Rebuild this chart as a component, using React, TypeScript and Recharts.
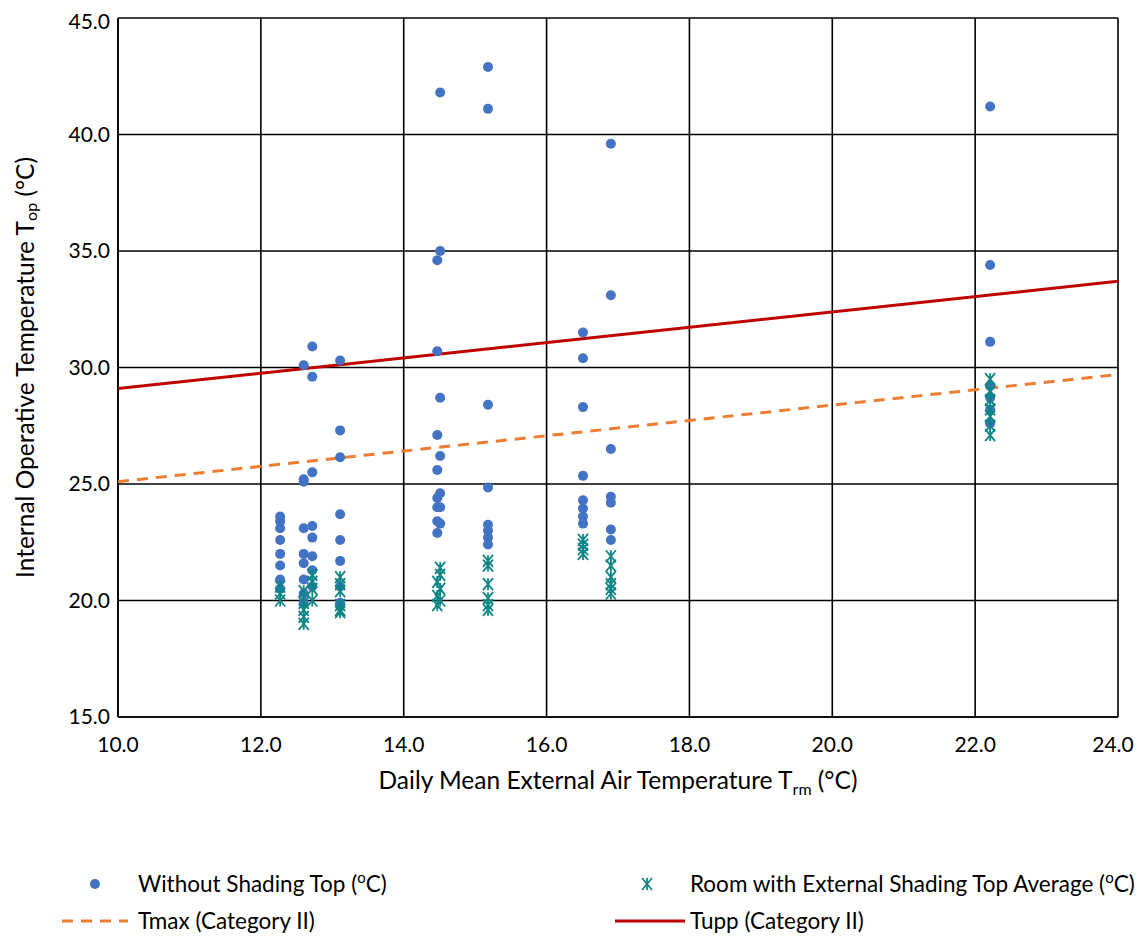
import React from "react";
import {
  ScatterChart,
  Scatter,
  XAxis,
  YAxis,
  CartesianGrid,
  Label,
  Legend,
} from "recharts";

// Without shading: [Trm, Top]
const withoutShading: [number, number][] = [
  [12.27, 23.6], [12.27, 23.4], [12.27, 23.1], [12.27, 22.6], [12.27, 22.0], [12.27, 21.5], [12.27, 20.9], [12.27, 20.5],
  [12.6, 30.1], [12.6, 25.2], [12.6, 25.1], [12.6, 23.1], [12.6, 22.0], [12.6, 21.6], [12.6, 20.9], [12.6, 20.3], [12.6, 19.9],
  [12.72, 30.9], [12.72, 29.6], [12.72, 25.5], [12.72, 23.2], [12.72, 22.7], [12.72, 21.9], [12.72, 21.3], [12.72, 20.6],
  [13.11, 30.3], [13.11, 27.3], [13.11, 26.15], [13.11, 23.7], [13.11, 22.6], [13.11, 21.7], [13.11, 20.6], [13.11, 19.9],
  [14.51, 41.8], [14.51, 35.0], [14.47, 34.6], [14.47, 30.7], [14.51, 28.7], [14.47, 27.1], [14.51, 26.2], [14.47, 25.6],
  [14.51, 24.6], [14.47, 24.4], [14.47, 24.0], [14.51, 24.0], [14.47, 23.4], [14.51, 23.3], [14.47, 22.9],
  [15.18, 42.9], [15.18, 41.1], [15.18, 28.4], [15.18, 24.85], [15.18, 23.25], [15.18, 23.0], [15.18, 22.7], [15.18, 22.4],
  [16.51, 31.5], [16.51, 30.4], [16.51, 28.3], [16.51, 25.35], [16.51, 24.3], [16.51, 23.95], [16.51, 23.6], [16.51, 23.3],
  [16.9, 39.6], [16.9, 33.1], [16.9, 26.5], [16.9, 24.45], [16.9, 24.2], [16.9, 23.05], [16.9, 22.6],
  [22.21, 41.2], [22.21, 34.4], [22.21, 31.1], [22.21, 29.2], [22.21, 28.7], [22.21, 28.2], [22.21, 27.6],
];

// Room with external shading: [Trm, Top average]
const externalShading: [number, number][] = [
  [12.27, 20.6], [12.27, 20.3], [12.27, 20.0],
  [12.6, 20.4], [12.6, 19.9], [12.6, 19.6], [12.6, 19.3], [12.6, 19.0],
  [12.72, 21.1], [12.72, 20.8], [12.72, 20.5], [12.72, 20.0],
  [13.11, 21.0], [13.11, 20.7], [13.11, 20.4], [13.11, 19.8], [13.11, 19.6], [13.11, 19.5],
  [14.51, 21.4], [14.51, 21.1], [14.47, 20.8], [14.51, 20.5], [14.47, 20.2], [14.51, 20.0], [14.47, 19.8],
  [15.18, 21.7], [15.18, 21.5], [15.18, 20.7], [15.18, 20.1], [15.18, 19.8], [15.18, 19.6],
  [16.51, 22.6], [16.51, 22.4], [16.51, 22.2], [16.51, 22.0],
  [16.9, 21.9], [16.9, 21.5], [16.9, 21.0], [16.9, 20.7], [16.9, 20.5], [16.9, 20.3],
  [22.21, 29.5], [22.21, 29.0], [22.21, 28.6], [22.21, 28.2], [22.21, 27.9], [22.21, 27.5], [22.21, 27.1],
];

const tmaxLine: [number, number][] = [[10, 25.1], [24, 29.7]];
const tuppLine: [number, number][] = [[10, 29.1], [24, 33.7]];

const xTicks = [10, 12, 14, 16, 18, 20, 22, 24];
const yTicks = [15, 20, 25, 30, 35, 40, 45];

const toPts = (a: [number, number][]) => a.map(([x, y]) => ({ x, y }));

const BLUE = "#4472C4";
const TEAL = "#0E8585";
const ORANGE = "#ED7D31";
const RED = "#C00000";
const FONT = "Lato, 'Open Sans', sans-serif";
const TICK_FS = 21;

const Dot = (p: any) => <circle cx={p.cx} cy={p.cy} r={5} fill={BLUE} />;
const Star = (p: any) => {
  const { cx, cy } = p;
  const w = 5, h = 6;
  return (
    <g stroke={TEAL} strokeWidth={1.8}>
      <line x1={cx - w} y1={cy - h} x2={cx + w} y2={cy + h} />
      <line x1={cx - w} y1={cy + h} x2={cx + w} y2={cy - h} />
      <line x1={cx} y1={cy - h} x2={cx} y2={cy + h} />
    </g>
  );
};
const Nothing = () => <g />;

const XTick = (p: any) => {
  const v = p.payload.value as number;
  const last = v === xTicks[xTicks.length - 1];
  return (
    <text
      x={p.x + (last ? -5 : 0)}
      y={p.y}
      dy="0.71em"
      textAnchor="middle"
      fontSize={TICK_FS}
      fontFamily={FONT}
      fill="#000"
    >
      {v.toFixed(1)}
    </text>
  );
};

const YTick = (p: any) => {
  const v = p.payload.value as number;
  return (
    <text
      x={p.x}
      y={p.y + (v === yTicks[yTicks.length - 1] ? 4 : 0)}
      dy="0.355em"
      textAnchor="end"
      fontSize={TICK_FS}
      fontFamily={FONT}
      fill="#000"
    >
      {v.toFixed(1)}
    </text>
  );
};

const Sup = () => (
  <>
    (<tspan baselineShift="super" fontSize={15}>o</tspan>C)
  </>
);

const LegendBox = () => (
  <svg width={1129} height={66} style={{ fontFamily: FONT, display: "block" }}>
    <g fontSize={22.5} fill="#000">
      <circle cx={87} cy={16} r={5} fill={BLUE} />
      <text x={130} y={24}>Without Shading Top <Sup /></text>
      <Star cx={639} cy={16} />
      <text x={682} y={24}>Room with External Shading Top Average  <Sup /></text>
      <line x1={54} y1={53} x2={120} y2={53} stroke={ORANGE} strokeWidth={3} strokeDasharray="11 8" />
      <text x={130} y={61}>Tmax (Category II)</text>
      <line x1={607} y1={53} x2={677} y2={53} stroke={RED} strokeWidth={3} />
      <text x={682} y={61}>Tupp (Category II)</text>
    </g>
  </svg>
);

export default function App() {
  return (
    <div style={{ fontFamily: FONT }}>
      <ScatterChart
        width={1129}
        height={928}
        margin={{ top: 10, right: 19, bottom: 123, left: 0 }}
      >
        <CartesianGrid stroke="#000" strokeWidth={1.6} horizontalValues={yTicks} verticalValues={xTicks} />
        <XAxis
          type="number"
          dataKey="x"
          domain={[10, 24]}
          ticks={xTicks}
          interval={0}
          tickLine={false}
          axisLine={{ stroke: "#000", strokeWidth: 1.6 }}
          tick={XTick}
          tickMargin={14}
          allowDataOverflow
        >
          <Label
            content={(props: any) => {
              const vb = props.viewBox;
              const cx = vb.x + vb.width / 2;
              return (
                <text x={cx} y={vb.y + 72} textAnchor="middle" fontSize={24.5} fill="#000" fontFamily={FONT}>
                  Daily Mean External Air Temperature T
                  <tspan fontSize={16} dy={6}>rm</tspan>
                  <tspan dy={-6}> (°C)</tspan>
                </text>
              );
            }}
          />
        </XAxis>
        <YAxis
          type="number"
          dataKey="y"
          domain={[15, 45]}
          ticks={yTicks}
          interval={0}
          width={110}
          tickLine={false}
          axisLine={{ stroke: "#000", strokeWidth: 1.6 }}
          tick={YTick}
          allowDataOverflow
        >
          <Label
            content={(props: any) => {
              const vb = props.viewBox;
              const cy = vb.y + vb.height / 2;
              const x = 16;
              return (
                <text
                  x={x}
                  y={cy}
                  transform={`rotate(-90 ${x} ${cy})`}
                  textAnchor="middle"
                  dominantBaseline="central"
                  fontSize={24.5}
                  fill="#000"
                  fontFamily={FONT}
                >
                  Internal Operative Temperature T
                  <tspan fontSize={16} dy={6}>op</tspan>
                  <tspan dy={-6}> (°C)</tspan>
                </text>
              );
            }}
          />
        </YAxis>
        <Scatter
          name="Tmax (Category II)"
          data={toPts(tmaxLine)}
          line={{ stroke: ORANGE, strokeWidth: 3, strokeDasharray: "11 8" }}
          shape={Nothing}
          isAnimationActive={false}
        />
        <Scatter
          name="Tupp (Category II)"
          data={toPts(tuppLine)}
          line={{ stroke: RED, strokeWidth: 3 }}
          shape={Nothing}
          isAnimationActive={false}
        />
        <Scatter
          name="Without Shading Top"
          data={toPts(withoutShading)}
          shape={Dot}
          isAnimationActive={false}
        />
        <Scatter
          name="Room with External Shading Top Average"
          data={toPts(externalShading)}
          shape={Star}
          isAnimationActive={false}
        />
        <Legend
          content={() => <LegendBox />}
          wrapperStyle={{ position: "absolute", left: 0, top: 860, width: 1129 }}
        />
      </ScatterChart>
    </div>
  );
}
